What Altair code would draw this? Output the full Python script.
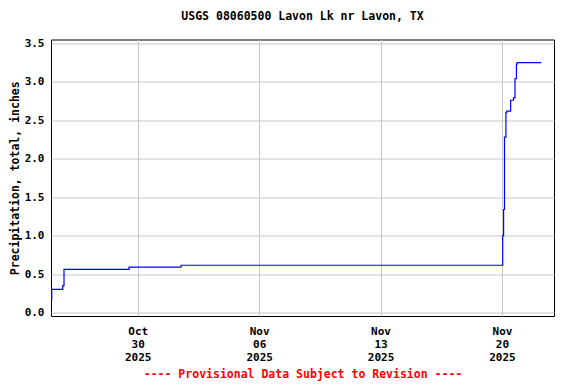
import altair as alt
import pandas as pd

times = ["2025-10-25T00:45", "2025-10-25T01:00", "2025-10-25T16:15", "2025-10-25T18:00",
         "2025-10-29T12:00", "2025-11-01T12:00", "2025-11-20T01:00", "2025-11-20T02:15",
         "2025-11-20T03:30", "2025-11-20T05:30", "2025-11-20T06:30", "2025-11-20T12:00",
         "2025-11-20T16:00", "2025-11-20T18:00", "2025-11-20T20:00", "2025-11-20T21:00",
         "2025-11-22T06:30"]
values = [0.16, 0.30, 0.35, 0.56, 0.59, 0.615, 1.00, 1.34, 2.28, 2.60, 2.62, 2.76,
          2.79, 3.04, 3.23, 3.25, 3.25]

tick_dates = [(2025, 10, 30), (2025, 11, 6), (2025, 11, 13), (2025, 11, 20)]
y_ticks = [0.0, 0.5, 1.0, 1.5, 2.0, 2.5, 3.0, 3.5]

df = pd.DataFrame({"t": times, "v": values})

FONT = "DejaVu Sans Mono"

chart = alt.Chart(df).mark_line(
    interpolate="step-after", color="#0000FF", strokeWidth=1.2
).encode(
    x=alt.X("t:T",
            scale=alt.Scale(domain=[alt.DateTime(year=2025, month=10, date=25),
                                    alt.DateTime(year=2025, month=11, date=23)]),
            axis=alt.Axis(
                values=[alt.DateTime(year=y, month=m, date=d) for y, m, d in tick_dates],
                labelExpr="[timeFormat(datum.value, '%b'), timeFormat(datum.value, '%d'), timeFormat(datum.value, '%Y')]",
                labelLineHeight=13,
                labelPadding=9,
                ticks=False,
                domain=False,
                title="---- Provisional Data Subject to Revision ----",
                titleColor="#FF0000",
                titleFontSize=11.5,
                titlePadding=6,
            )),
    y=alt.Y("v:Q",
            scale=alt.Scale(domain=[-0.045, 3.55], nice=False, zero=False),
            axis=alt.Axis(values=y_ticks, format=".1f", ticks=False, domain=False,
                          labelPadding=7, titleFontSize=11.5,
                          title="Precipitation, total, inches", titlePadding=4)),
).properties(
    width=503, height=276.5,
    autosize=alt.AutoSizeParams(type="none"),
    padding={"left": 43, "top": 31.5, "right": 14, "bottom": 68},
    title=alt.TitleParams("USGS 08060500 Lavon Lk nr Lavon, TX", offset=15,
                          font=FONT, fontSize=11.5, fontWeight="bold", color="black"),
).configure_view(
    stroke="black", strokeWidth=1
).configure_axis(
    labelFont=FONT, labelFontSize=11, labelFontWeight="bold", labelColor="black",
    titleFont=FONT, titleFontWeight="bold",
    gridColor="#c8c8c8", gridWidth=1, gridOpacity=1,
).configure_axisY(titleColor="black")

chart.save("out.html", embed_options={"renderer": "svg", "actions": False})
